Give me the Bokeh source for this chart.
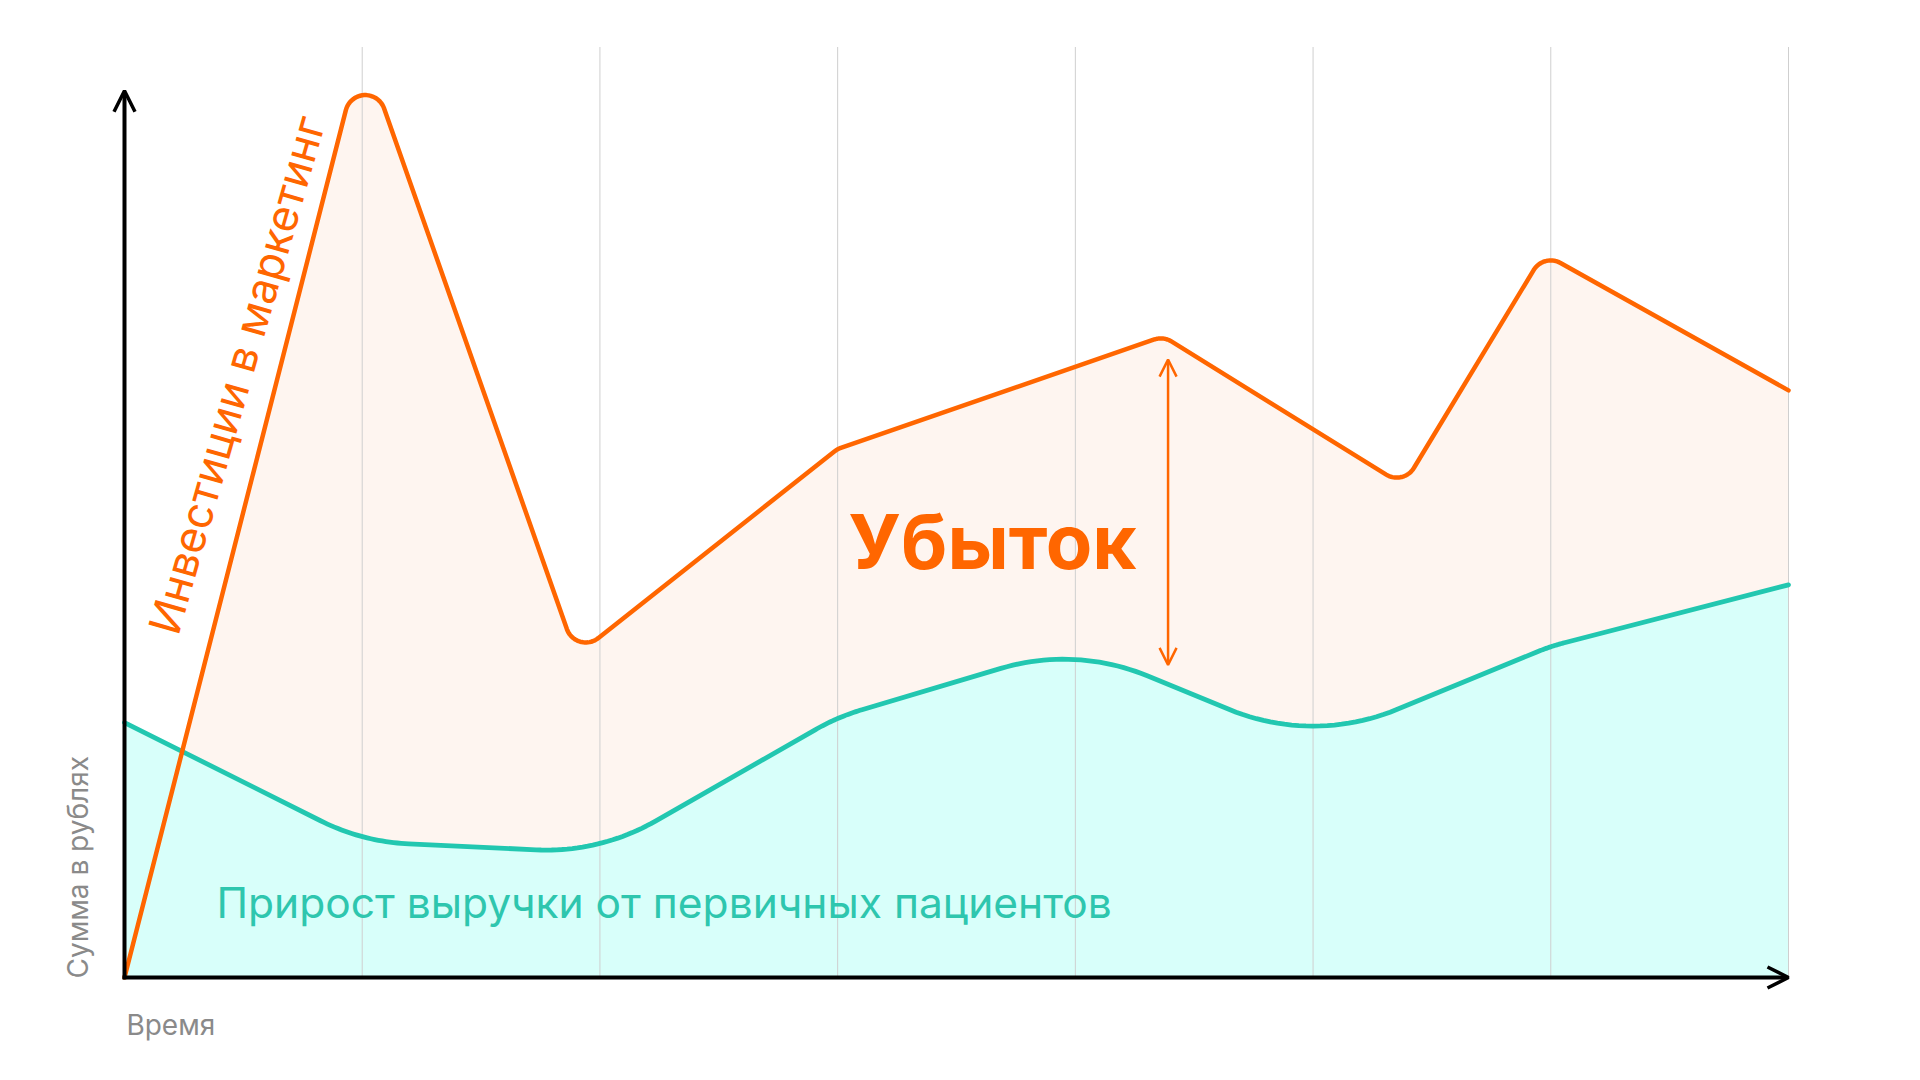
import numpy as np
from bokeh.plotting import figure
from bokeh.models import Range1d, Label, Arrow, OpenHead
from bokeh.embed import file_html
from bokeh.resources import INLINE

# ---------------- data ----------------
invest_t = [0.0, 1.0, 1.9, 3.0, 4.37, 5.38, 5.97, 7.0]
invest_v = [0.0, 100.1, 34.6, 56.8, 68.9, 52.9, 77.8, 63.1]

revenue_t = [0, 1, 2, 3, 4, 5, 6, 7]
revenue_v = [27.4, 14.6, 13.4, 28.0, 35.6, 25.1, 35.6, 42.2]

grid_t = [1, 2, 3, 4, 5, 6, 7]
grid_top = 100.0
y_axis_top = 95.3
x_axis_end = 7.0

loss_t = 4.39
loss_top = 66.4
loss_bottom = 33.6

label_invest = "Инвестиции в маркетинг"
label_revenue = "Прирост выручки от первичных пациентов"
label_loss = "Убыток"
label_y = "Сумма в рублях"
label_x = "Время"

# ---------------- styling ----------------
ORANGE = "#FF6600"
PEACH = "#FEF5F0"
TEAL = "#22C7B0"
TEAL_TXT = "#2EC6AE"
CYAN = "#D8FFFA"
GRAY = "#8A8A8A"
GRID = "#CFCFCF"
FONT = "Inter"

W, H = 1904, 1064
SX = 237.714   # px per time unit
SY = 9.305     # px per value unit
X0 = -124 / SX
X1 = X0 + W / SX
Y1 = 977 / SY
Y0 = Y1 - H / SY


def rounded_path(xs, ys, radius, n=24):
    """Render a polyline with rounded joins (radius in screen pixels)."""
    P = [np.array([x * SX, y * SY]) for x, y in zip(xs, ys)]
    out = [P[0]]
    for i in range(1, len(P) - 1):
        p0, p1, p2 = P[i - 1], P[i], P[i + 1]
        v1, v2 = p0 - p1, p2 - p1
        l1, l2 = np.linalg.norm(v1), np.linalg.norm(v2)
        u1, u2 = v1 / l1, v2 / l2
        ang = np.arccos(np.clip(np.dot(u1, u2), -1, 1))
        if ang > np.pi - 1e-3:
            out.append(p1)
            continue
        t = radius / np.tan(ang / 2)
        t = min(t, 0.48 * l1, 0.48 * l2)
        rr = t * np.tan(ang / 2)
        a = p1 + u1 * t
        b = p1 + u2 * t
        bis = (u1 + u2) / np.linalg.norm(u1 + u2)
        c = p1 + bis * (rr / np.sin(ang / 2))
        ta = np.arctan2(*(a - c)[::-1])
        tb = np.arctan2(*(b - c)[::-1])
        d = tb - ta
        while d > np.pi:
            d -= 2 * np.pi
        while d < -np.pi:
            d += 2 * np.pi
        for k in range(n + 1):
            th = ta + d * k / n
            out.append(c + rr * np.array([np.cos(th), np.sin(th)]))
    out.append(P[-1])
    arr = np.array(out)
    return list(arr[:, 0] / SX), list(arr[:, 1] / SY)


p = figure(width=W, height=H, output_backend="svg", toolbar_location=None,
           x_range=Range1d(X0, X1), y_range=Range1d(Y0, Y1),
           x_axis_type=None, y_axis_type=None, min_border=0)
p.outline_line_color = None
p.xgrid.visible = False
p.ygrid.visible = False
p.background_fill_color = "white"
p.border_fill_color = "white"

ox, oy = rounded_path(invest_t, invest_v, 20)
tx, ty = rounded_path(revenue_t, revenue_v, 220)

# fills
p.patch(ox + [invest_t[-1]], oy + [0], fill_color=PEACH, line_color=None)
p.patch(tx + [revenue_t[-1], revenue_t[0]], ty + [0, 0], fill_color=CYAN, line_color=None)

# vertical guide lines
p.segment(x0=grid_t, y0=[0] * len(grid_t), x1=grid_t, y1=[grid_top] * len(grid_t),
          line_color=GRID, line_width=1)

# series lines
p.line(tx, ty, line_color=TEAL, line_width=4.8, line_join="round", line_cap="round")
p.line(ox, oy, line_color=ORANGE, line_width=4.5, line_join="round", line_cap="round")

# axes with arrows
p.add_layout(Arrow(x_start=0, y_start=-0.2, x_end=0, y_end=y_axis_top,
                   line_color="black", line_width=4,
                   end=OpenHead(size=21, line_width=3.5, line_color="black")))
p.add_layout(Arrow(x_start=-0.008, y_start=0, x_end=x_axis_end, y_end=0,
                   line_color="black", line_width=4,
                   end=OpenHead(size=21, line_width=3.5, line_color="black")))

# loss double arrow
p.add_layout(Arrow(x_start=loss_t, y_start=loss_bottom, x_end=loss_t, y_end=loss_top,
                   line_color=ORANGE, line_width=2.5,
                   start=OpenHead(size=17, line_width=2.5, line_color=ORANGE),
                   end=OpenHead(size=17, line_width=2.5, line_color=ORANGE)))

# texts
p.add_layout(Label(x=0.161, y=37.06, text=label_invest, angle=np.deg2rad(74),
                   text_font=FONT, text_font_size="44px", text_color=ORANGE,
                   text_align="left", text_baseline="alphabetic"))
p.add_layout(Label(x=0.387, y=8.1, text=label_revenue,
                   text_font=FONT, text_font_size="42.5px", text_color=TEAL_TXT,
                   text_align="left", text_baseline="alphabetic"))
p.add_layout(Label(x=3.045, y=46.9, text=label_loss,
                   text_font=FONT, text_font_size="76px", text_font_style="bold",
                   text_color=ORANGE, text_align="left", text_baseline="alphabetic"))
p.add_layout(Label(x=-0.194, y=-0.107, text=label_y, angle=np.pi / 2,
                   text_font=FONT, text_font_size="28px", text_color=GRAY,
                   text_align="left", text_baseline="alphabetic"))
p.add_layout(Label(x=0.008, y=-5.13, text=label_x,
                   text_font=FONT, text_font_size="28px", text_color=GRAY,
                   text_align="left", text_baseline="alphabetic"))

open("out.html", "w").write(file_html(p, INLINE))
